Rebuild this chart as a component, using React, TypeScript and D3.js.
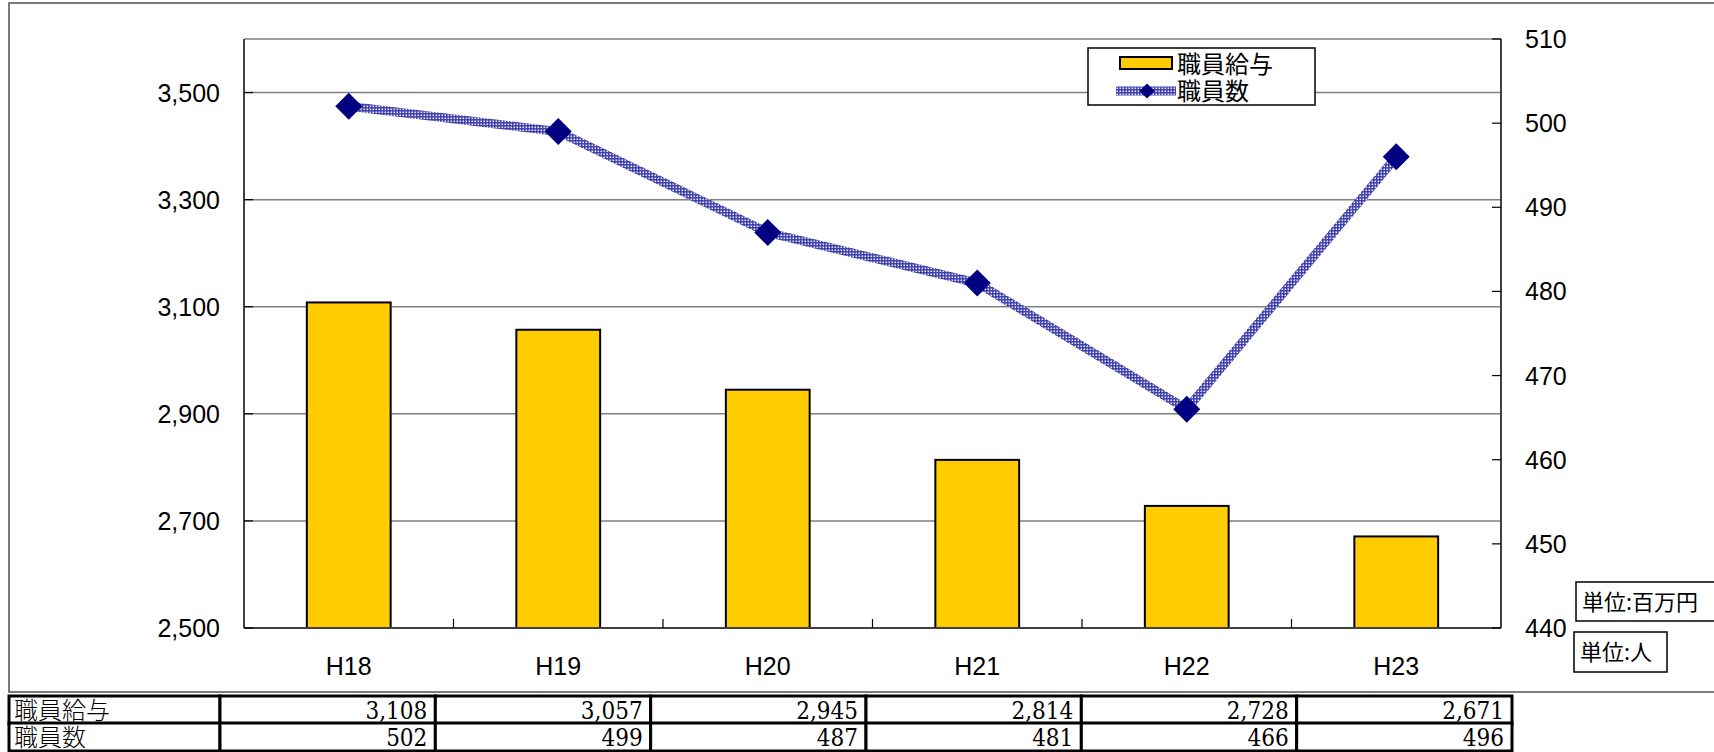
import React, { useRef, useEffect } from 'react';
import * as d3 from 'd3';

// chart data
const categories = ['H18', 'H19', 'H20', 'H21', 'H22', 'H23'];
const salary = [3108, 3057, 2945, 2814, 2728, 2671]; // 職員給与 (百万円)
const staff = [502, 499, 487, 481, 466, 496]; // 職員数 (人)
const leftTicks = [2500, 2700, 2900, 3100, 3300, 3500];
const rightTicks = [440, 450, 460, 470, 480, 490, 500, 510];
const rowLabels = ['職員給与', '職員数'];

const W = 1714;
const H = 752;
const JP = "'Noto Sans CJK JP', 'Noto Sans', sans-serif";
const SANS = "'Liberation Sans', Arial, sans-serif";
const SERIF = "'DejaVu Serif Condensed', 'DejaVu Serif', serif";

export default function App() {
  const ref = useRef<SVGSVGElement>(null);

  useEffect(() => {
    const svg = d3.select(ref.current);
    svg.selectAll('*').remove();

    const plot = { left: 244, right: 1501, top: 39, bottom: 628 };

    const x = d3.scaleBand()
      .domain(categories)
      .range([plot.left, plot.right])
      .paddingInner(0.6)
      .paddingOuter(0.3);
    const step = x.step();

    const yL = d3.scaleLinear().domain([2500, 3600]).range([plot.bottom, plot.top]);
    const yR = d3.scaleLinear().domain([440, 510]).range([plot.bottom, plot.top]);

    // checkered pattern for the line
    const defs = svg.append('defs');
    const pat = defs.append('pattern')
      .attr('id', 'chk')
      .attr('patternUnits', 'userSpaceOnUse')
      .attr('width', 3)
      .attr('height', 3);
    pat.append('rect').attr('width', 3).attr('height', 3).attr('fill', '#3a3aa8');
    pat.append('rect').attr('x', 0.5).attr('y', 0.5).attr('width', 1.6).attr('height', 1.6).attr('fill', '#e8e8f8');

    // outer frame
    svg.append('rect')
      .attr('x', 9).attr('y', 3)
      .attr('width', W + 20).attr('height', 689)
      .attr('fill', 'none')
      .attr('stroke', '#505050')
      .attr('stroke-width', 1.5);

    // gridlines
    svg.append('g')
      .selectAll('line')
      .data(leftTicks.slice(1))
      .enter()
      .append('line')
        .attr('x1', plot.left).attr('x2', plot.right)
        .attr('y1', d => yL(d)).attr('y2', d => yL(d))
        .attr('stroke', '#808080')
        .attr('stroke-width', 1.5);

    // top border
    svg.append('line')
      .attr('x1', plot.left).attr('x2', plot.right)
      .attr('y1', plot.top).attr('y2', plot.top)
      .attr('stroke', '#808080').attr('stroke-width', 1.5);

    // bars
    svg.append('g')
      .selectAll('rect')
      .data(salary)
      .enter()
      .append('rect')
        .attr('x', (d, i) => x(categories[i])!)
        .attr('y', d => yL(d))
        .attr('width', x.bandwidth())
        .attr('height', d => plot.bottom - yL(d))
        .attr('fill', '#FFCC00')
        .attr('stroke', '#000')
        .attr('stroke-width', 2);

    // axes lines
    const axisColor = '#404040';
    svg.append('line')
      .attr('x1', plot.left).attr('x2', plot.left)
      .attr('y1', plot.top).attr('y2', plot.bottom)
      .attr('stroke', axisColor).attr('stroke-width', 2);
    svg.append('line')
      .attr('x1', plot.right).attr('x2', plot.right)
      .attr('y1', plot.top).attr('y2', plot.bottom)
      .attr('stroke', axisColor).attr('stroke-width', 2);
    svg.append('line')
      .attr('x1', plot.left).attr('x2', plot.right)
      .attr('y1', plot.bottom).attr('y2', plot.bottom)
      .attr('stroke', axisColor).attr('stroke-width', 2);

    // ticks (inside)
    svg.append('g')
      .selectAll('line')
      .data(leftTicks)
      .enter()
      .append('line')
        .attr('x1', plot.left).attr('x2', plot.left + 9)
        .attr('y1', d => yL(d)).attr('y2', d => yL(d))
        .attr('stroke', '#000').attr('stroke-width', 1.2);
    svg.append('g')
      .selectAll('line')
      .data(rightTicks)
      .enter()
      .append('line')
        .attr('x1', plot.right - 9).attr('x2', plot.right)
        .attr('y1', d => yR(d)).attr('y2', d => yR(d))
        .attr('stroke', '#000').attr('stroke-width', 1.2);
    svg.append('g')
      .selectAll('line')
      .data(categories.slice(1))
      .enter()
      .append('line')
        .attr('x1', d => x(d)! - step * 0.3).attr('x2', d => x(d)! - step * 0.3)
        .attr('y1', plot.bottom - 9).attr('y2', plot.bottom)
        .attr('stroke', '#000').attr('stroke-width', 1.2);

    // tick labels
    const fmt = d3.format(',');
    svg.append('g')
      .selectAll('text')
      .data(leftTicks)
      .enter()
      .append('text')
        .attr('x', 220)
        .attr('y', d => yL(d))
        .attr('dy', '0.36em')
        .attr('text-anchor', 'end')
        .style('font-family', SANS)
        .style('font-size', '25px')
        .text(d => fmt(d));
    svg.append('g')
      .selectAll('text')
      .data(rightTicks)
      .enter()
      .append('text')
        .attr('x', 1525)
        .attr('y', d => yR(d))
        .attr('dy', '0.36em')
        .style('font-family', SANS)
        .style('font-size', '25px')
        .text(d => d);
    svg.append('g')
      .selectAll('text')
      .data(categories)
      .enter()
      .append('text')
        .attr('x', d => x(d)! + x.bandwidth() / 2)
        .attr('y', 666)
        .attr('dy', '0.36em')
        .attr('text-anchor', 'middle')
        .style('font-family', SANS)
        .style('font-size', '25px')
        .text(d => d);

    // line series
    const line = d3.line<number>()
      .x((d, i) => x(categories[i])! + x.bandwidth() / 2)
      .y(d => yR(d));
    svg.append('path')
      .datum(staff)
      .attr('d', line)
      .attr('fill', 'none')
      .attr('stroke', 'url(#chk)')
      .attr('stroke-width', 9);

    const diamond = (cx: number, cy: number, r: number) =>
      `M${cx},${cy - r}L${cx + r},${cy}L${cx},${cy + r}L${cx - r},${cy}Z`;
    svg.append('g')
      .selectAll('path')
      .data(staff)
      .enter()
      .append('path')
        .attr('d', (d, i) => diamond(x(categories[i])! + x.bandwidth() / 2, yR(d), 13.5))
        .attr('fill', '#000080');

    // legend
    const lg = svg.append('g');
    lg.append('rect')
      .attr('x', 1088).attr('y', 48)
      .attr('width', 227).attr('height', 57)
      .attr('fill', '#fff').attr('stroke', '#000').attr('stroke-width', 1.5);
    lg.append('rect')
      .attr('x', 1120).attr('y', 57)
      .attr('width', 52).attr('height', 12)
      .attr('fill', '#FFCC00').attr('stroke', '#000').attr('stroke-width', 2);
    lg.append('line')
      .attr('x1', 1116).attr('x2', 1176)
      .attr('y1', 91).attr('y2', 91)
      .attr('stroke', 'url(#chk)').attr('stroke-width', 9);
    lg.append('path').attr('d', diamond(1147, 91, 7.5)).attr('fill', '#000080');
    lg.selectAll('text.lbl')
      .data(rowLabels)
      .enter()
      .append('text')
        .attr('x', 1177)
        .attr('y', (d, i) => 64 + i * 27)
        .attr('dy', '0.36em')
        .style('font-family', JP)
        .style('font-size', '24px')
        .text(d => d);

    // unit boxes
    svg.append('rect')
      .attr('x', 1576).attr('y', 582).attr('width', 160).attr('height', 39)
      .attr('fill', '#fff').attr('stroke', '#000').attr('stroke-width', 1.5);
    svg.append('text')
      .attr('x', 1582).attr('y', 602).attr('dy', '0.36em')
      .style('font-family', JP).style('font-size', '22px')
      .text('単位:百万円');
    svg.append('rect')
      .attr('x', 1574).attr('y', 632).attr('width', 93).attr('height', 40)
      .attr('fill', '#fff').attr('stroke', '#000').attr('stroke-width', 1.5);
    svg.append('text')
      .attr('x', 1580).attr('y', 652).attr('dy', '0.36em')
      .style('font-family', JP).style('font-size', '22px')
      .text('単位:人');

    // data table
    const tx = d3.scaleBand().domain(categories).range([220, 1512]);
    const rows = [salary, staff];
    const rowTop = [696, 723];
    const rowH = 28;
    const tb = svg.append('g');
    rows.forEach((vals, r) => {
      tb.append('rect')
        .attr('x', 9).attr('y', rowTop[r])
        .attr('width', 211).attr('height', rowH)
        .attr('fill', '#fff').attr('stroke', '#000').attr('stroke-width', 3);
      tb.append('text')
        .attr('x', 14).attr('y', rowTop[r] + rowH - 5)
        .style('font-family', JP).style('font-size', '24px').style('font-weight', '300')
        .text(rowLabels[r]);
      tb.selectAll(`rect.c${r}`)
        .data(categories)
        .enter()
        .append('rect')
          .attr('x', d => tx(d)!).attr('y', rowTop[r])
          .attr('width', tx.bandwidth()).attr('height', rowH)
          .attr('fill', '#fff').attr('stroke', '#000').attr('stroke-width', 3);
      tb.selectAll(`text.v${r}`)
        .data(vals)
        .enter()
        .append('text')
          .attr('x', (d, i) => tx(categories[i])! + tx.bandwidth() - 8)
          .attr('y', rowTop[r] + rowH - 5)
          .attr('text-anchor', 'end')
          .style('font-family', SERIF)
          .style('font-size', '24px')
          .text(d => fmt(d));
    });
  }, []);

  return (
    <svg
      ref={ref}
      width={W}
      height={H}
      style={{ position: 'absolute', left: 0, top: 0, display: 'block', background: '#fff' }}
    />
  );
}
